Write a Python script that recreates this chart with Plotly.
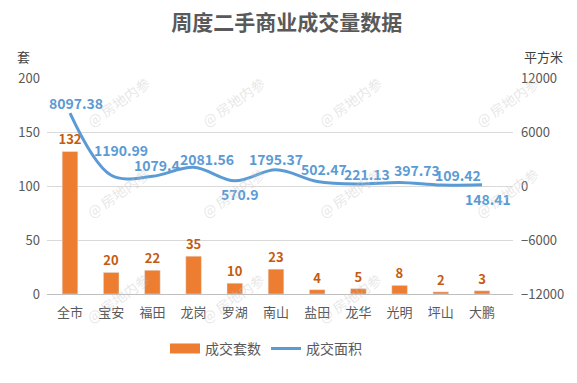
import plotly.graph_objects as go

categories = ["全市", "宝安", "福田", "龙岗", "罗湖", "南山", "盐田", "龙华", "光明", "坪山", "大鹏"]
units = [132, 20, 22, 35, 10, 23, 4, 5, 8, 2, 3]
area = [8097.38, 1190.99, 1079.4, 2081.56, 570.9, 1795.37, 502.47, 221.13, 397.73, 109.42, 148.41]
left_ticks = [0, 50, 100, 150, 200]
right_ticks = [-12000, -6000, 0, 6000, 12000]

# label offsets (pixels) for the line labels
label_dx = [6, 10, 5, 13, 5, 0, 7, 9, 17, 17, 6]
label_dy = [10, 25, 11, 8, -13, 11, 12, 10, 12, 10, -14]

FONT = "Noto Sans CJK SC, Microsoft YaHei, sans-serif"
GRAY = "#595959"
ORANGE = "#ED7D31"
BLUE = "#5B9BD5"

fig = go.Figure()
fig.add_trace(go.Bar(
    x=categories, y=units, name="成交套数", marker_color=ORANGE,
    width=0.38, text=[str(v) for v in units], textposition="outside",
    constraintext="none", showlegend=False,
    textfont=dict(color="#C55A11", size=13, family=FONT, weight="bold"),
    cliponaxis=False,
))
# legend stand-in for the bar series (wide rectangle swatch)
fig.add_trace(go.Scatter(
    x=[categories[0]], y=[None], name="成交套数", mode="lines",
    line=dict(color=ORANGE, width=10),
))
fig.add_trace(go.Scatter(
    x=categories, y=area, name="成交面积", yaxis="y2", mode="lines",
    line=dict(color=BLUE, width=3, shape="spline", smoothing=1.0),
))

for c, v, dx, dy in zip(categories, area, label_dx, label_dy):
    fig.add_annotation(x=c, y=v, yref="y2", text=f"{v:g}", showarrow=False,
                       xshift=dx, yshift=dy,
                       font=dict(color=BLUE, size=14, family=FONT, weight="bold"))

# axis unit titles
fig.add_annotation(xref="paper", yref="paper", x=(23 - 47) / 466, y=(294 - 57) / 216,
                   text="套", showarrow=False, xanchor="center", yanchor="middle",
                   font=dict(size=13, color="#404040", family=FONT))
fig.add_annotation(xref="paper", yref="paper", x=(543 - 47) / 466, y=(294 - 57) / 216,
                   text="平方米", showarrow=False, xanchor="center", yanchor="middle",
                   font=dict(size=13, color="#404040", family=FONT))

# watermarks
for wx in [80, 233, 388, 545]:
    for wy in [70, 193, 330]:
        if wx == 545 and wy == 330:
            continue
        fig.add_annotation(xref="paper", yref="paper",
                           x=(wx - 47) / 466, y=(294 - wy) / 216,
                           text="@ 房地内参", showarrow=False, textangle=-35,
                           font=dict(size=14, color="rgba(195,195,195,0.4)", family=FONT))

fig.update_layout(
    width=577, height=383,
    margin=dict(l=47, r=64, t=78, b=89),
    paper_bgcolor="white", plot_bgcolor="white",
    title=dict(text="<b>周度二手商业成交量数据</b>", x=0.497, xanchor="center",
               y=1 - 23 / 383, yanchor="middle",
               font=dict(size=21, color=GRAY, family=FONT)),
    font=dict(family=FONT, color=GRAY, size=13),
    showlegend=True,
    legend=dict(orientation="h", x=0.47, xanchor="center", y=-0.18, yanchor="top",
                font=dict(size=14, color=GRAY), itemwidth=30),
    bargap=0.62,
    xaxis=dict(showline=True, linecolor="#BFBFBF", linewidth=1, ticks="",
               ticklabelstandoff=6, tickfont=dict(size=13, color=GRAY)),
    yaxis=dict(range=[0, 200], tickvals=left_ticks, showgrid=True, gridcolor="#D9D9D9",
               zeroline=False, tickfont=dict(size=13, color=GRAY), ticklabelstandoff=6),
    yaxis2=dict(range=[-12000, 12000], tickvals=right_ticks, tickformat="d",
                overlaying="y", side="right", ticklabelstandoff=7,
                showgrid=False, zeroline=False, tickfont=dict(size=13, color=GRAY)),
)

fig.write_html("out.html", config={"displayModeBar": False},
               post_script="document.body.style.margin='0';")
